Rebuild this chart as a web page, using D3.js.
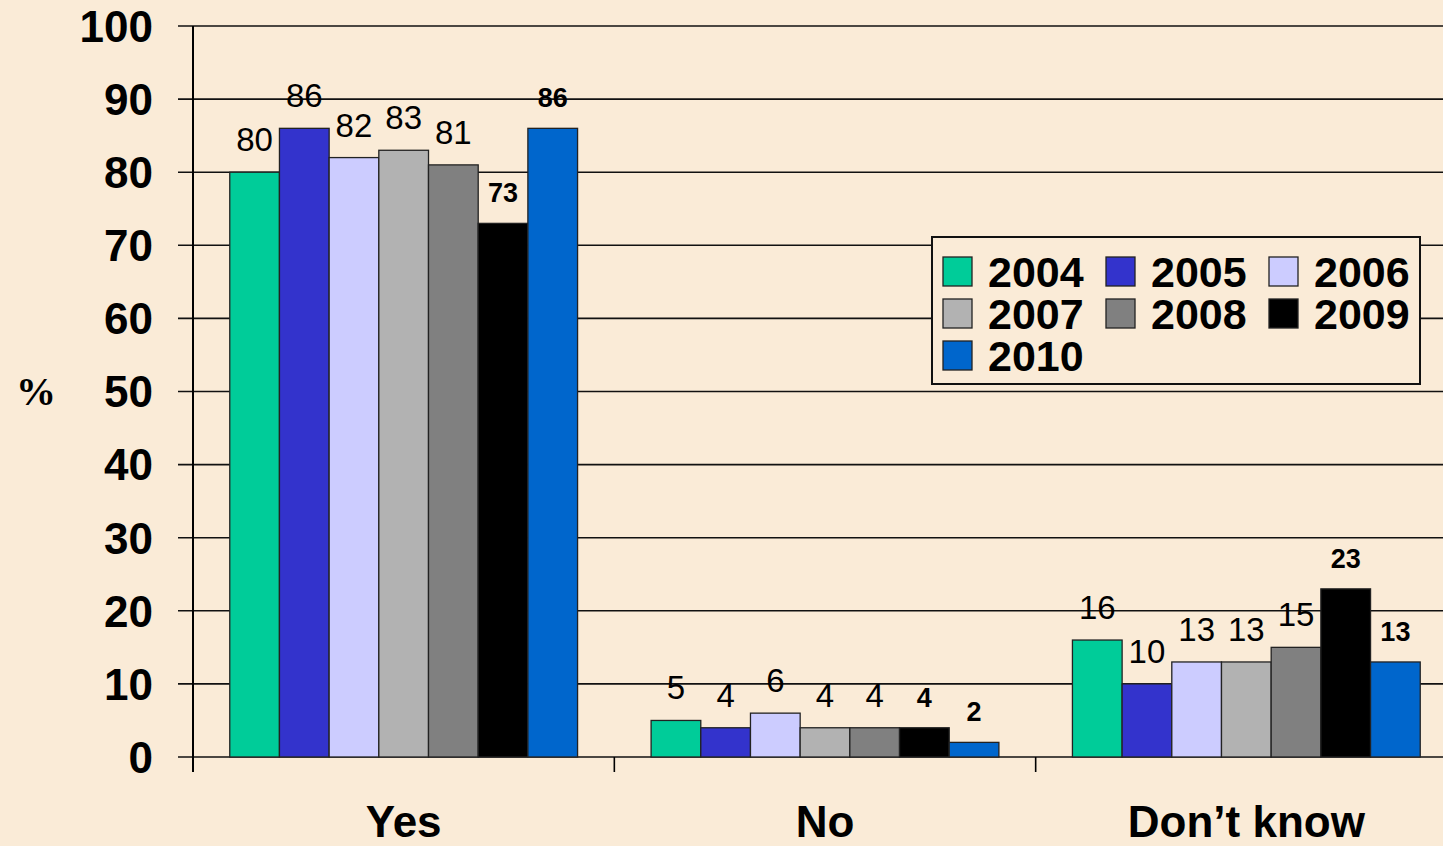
<!DOCTYPE html>
<html>
<head>
<meta charset="utf-8">
<script src="https://cdn.jsdelivr.net/npm/d3@7"></script>
<style>
  html, body { margin: 0; padding: 0; background: #FAEBD7; }
  svg { display: block; }
</style>
</head>
<body>
<svg id="chart" width="1443" height="846"></svg>
<script>
// Survey answers by year (%)
const categories = ["Yes", "No", "Don\u2019t know"];
const years = ["2004", "2005", "2006", "2007", "2008", "2009", "2010"];
const values = {
  "2004": [80, 5, 16],
  "2005": [86, 4, 10],
  "2006": [82, 6, 13],
  "2007": [83, 4, 13],
  "2008": [81, 4, 15],
  "2009": [73, 4, 23],
  "2010": [86, 2, 13]
};
const yTicks = [0, 10, 20, 30, 40, 50, 60, 70, 80, 90, 100];
const colors = ["#00CC99", "#3333CC", "#CCCCFF", "#B2B2B2", "#808080", "#000000", "#0066CC"];
const boldYears = ["2009", "2010"];

const svg = d3.select("#chart");
const margin = { left: 193, top: 26, bottom: 757, right: 1457 };

const x0 = d3.scaleBand().domain(categories).range([margin.left, margin.right]).paddingInner(0).paddingOuter(0);
const x1 = d3.scaleBand().domain(years).range([0, x0.bandwidth()]).paddingInner(0).paddingOuter(0.74);
const y = d3.scaleLinear().domain([0, 100]).range([margin.bottom, margin.top]);
const color = d3.scaleOrdinal().domain(years).range(colors);

const sans = "Liberation Sans, Arial, sans-serif";

// gridlines
svg.append("g")
  .selectAll("line").data(yTicks).join("line")
  .attr("x1", margin.left - 15).attr("x2", 1443)
  .attr("y1", d => y(d)).attr("y2", d => y(d))
  .attr("stroke", "#111").attr("stroke-width", 1.6);

// y axis labels
svg.append("g")
  .selectAll("text").data(yTicks).join("text")
  .attr("x", 153).attr("y", d => y(d))
  .attr("dy", "0.36em")
  .attr("text-anchor", "end")
  .attr("font-family", sans)
  .attr("font-weight", "bold").attr("font-size", 44)
  .attr("fill", "#000")
  .text(d => d);

// y axis line
svg.append("line")
  .attr("x1", margin.left).attr("x2", margin.left)
  .attr("y1", y(100)).attr("y2", margin.bottom + 15)
  .attr("stroke", "#000").attr("stroke-width", 2);

// category separators
svg.append("g")
  .selectAll("line").data(categories.slice(1)).join("line")
  .attr("x1", d => x0(d)).attr("x2", d => x0(d))
  .attr("y1", margin.bottom).attr("y2", margin.bottom + 15)
  .attr("stroke", "#000").attr("stroke-width", 1.6);

// axis title
svg.append("text")
  .attr("x", 36).attr("y", 391).attr("dy", "0.35em")
  .attr("text-anchor", "middle")
  .attr("font-family", "Liberation Serif, Times New Roman, serif")
  .attr("font-weight", "bold").attr("font-size", 40)
  .text("%");

// category labels
svg.append("g")
  .selectAll("text").data(categories).join("text")
  .attr("x", d => x0(d) + x0.bandwidth() / 2)
  .attr("y", 837)
  .attr("text-anchor", "middle")
  .attr("font-family", sans)
  .attr("font-weight", "bold").attr("font-size", 44)
  .text(d => d);

const flat = [];
categories.forEach((c, ci) => years.forEach(yr => flat.push({ cat: c, year: yr, v: values[yr][ci] })));

// value labels (drawn beneath the bars)
svg.append("g")
  .selectAll("text").data(flat).join("text")
  .attr("x", d => x0(d.cat) + x1(d.year) + x1.bandwidth() / 2)
  .attr("y", d => y(d.v) - 21)
  .attr("text-anchor", "middle")
  .attr("font-family", sans)
  .attr("font-weight", d => boldYears.includes(d.year) ? "bold" : "normal")
  .attr("font-size", d => boldYears.includes(d.year) ? 27 : 33)
  .attr("fill", "#000")
  .text(d => d.v);

// bars
svg.append("g")
  .selectAll("rect").data(flat).join("rect")
  .attr("x", d => x0(d.cat) + x1(d.year))
  .attr("y", d => y(d.v))
  .attr("width", x1.bandwidth())
  .attr("height", d => y(0) - y(d.v))
  .attr("fill", d => color(d.year))
  .attr("stroke", "#222").attr("stroke-width", 1.3);

// legend
const legend = svg.append("g").attr("transform", "translate(932,237)");
legend.append("rect")
  .attr("width", 488).attr("height", 147)
  .attr("fill", "#FAEBD7").attr("stroke", "#111").attr("stroke-width", 2);
const items = legend.selectAll("g.item").data(years).join("g")
  .attr("class", "item")
  .attr("transform", (d, i) => `translate(${11 + (i % 3) * 163},${20 + Math.floor(i / 3) * 42})`);
items.append("rect")
  .attr("width", 29).attr("height", 29)
  .attr("fill", d => color(d)).attr("stroke", "#222").attr("stroke-width", 1.3);
items.append("text")
  .attr("x", 45).attr("y", 14.5).attr("dy", "0.36em")
  .attr("font-family", sans)
  .attr("font-weight", "bold").attr("font-size", 43)
  .text(d => d);
</script>
</body>
</html>
